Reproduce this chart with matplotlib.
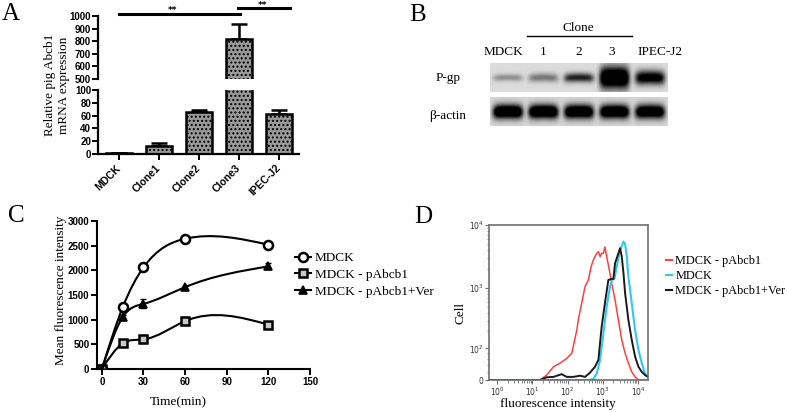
import numpy as np
import matplotlib
matplotlib.use("Agg")
import matplotlib.pyplot as plt
from matplotlib.path import Path
from matplotlib.patches import PathPatch
from matplotlib.lines import Line2D
from matplotlib.transforms import blended_transform_factory

# ---- data ----
# A: relative Abcb1 mRNA
groups = ["MDCK", "Clone1", "Clone2", "Clone3", "IPEC-J2"]
expr = [1, 12, 66, 820, 62]
expr_err = [0.5, 4.5, 3, 115, 6]

# B: western blot band strength (0 = none)
lanes = ["MDCK", "1", "2", "3", "IPEC-J2"]
pgp_band = [0.3, 0.4, 0.75, 1.3, 1.0]
actin_band = [1.3, 1.3, 1.25, 1.25, 1.2]

# C: uptake time course
time_min = [0, 15, 30, 60, 120]
mfi_mdck = [0, 1250, 2060, 2640, 2520]
mfi_mdck_err = [0, 40, 30, 40, 40]
mfi_pab = [0, 520, 600, 970, 900]
mfi_pab_err = [0, 30, 80, 80, 40]
mfi_ver = [0, 1050, 1320, 1660, 2080]
mfi_ver_err = [0, 40, 90, 30, 60]

# D: flow cytometry histograms
red_x = [0.6, 16.6, 25.7, 39.8, 61.6, 95, 132, 183, 202, 252, 314, 390, 466, 540, 600, 673, 750,
         840, 930, 1040, 1150, 1290, 1440, 1790, 2230, 2770, 3460, 4300, 5330, 6640, 8270, 10300, 19000]
red_y = [0, 0, 13, 35, 46, 61, 80, 210, 309, 575, 1060, 1345, 2180, 2790, 3150, 3560, 3780,
         3150, 3560, 3560, 4500, 3150, 2330, 1195, 648, 309, 143, 80, 46, 21, 8, 0, 0]
black_x = [0.6, 16.6, 25.7, 40, 68, 95, 146, 226, 314, 434, 600, 750, 930, 1150, 1440, 1790, 2000,
           2230, 2770, 3100, 3460, 3870, 4300, 5330, 6640, 8270, 10300, 12800, 15700, 19000]
black_y = [0, 0, 7, 8, 15, 8, 8, 11, 8, 19, 35, 56, 240, 575, 1345, 1400, 1400,
           2480, 3560, 4290, 3150, 1715, 826, 309, 143, 67, 35, 21, 13, 8]
cyan_x = [0.6, 400, 550, 673, 840, 1040, 1290, 1610, 1880, 2140, 2480, 3100, 3870, 4300, 4800,
          5330, 6640, 8270, 10300, 12800, 15700, 19000]
cyan_y = [0, 0, 3, 17, 56, 185, 507, 1060, 1400, 1400, 2180, 4000, 5460, 5000, 3150,
          1520, 575, 210, 93, 46, 17, 8]

W, H = 787, 412
serif = "Liberation Serif"
sans = "Liberation Sans"


def fx(x):
    return x / W


def fy(y):
    return 1 - y / H


def box(l, t, r, b):
    return [fx(l), fy(b), (r - l) / W, (b - t) / H]


fig = plt.figure(figsize=(W / 100, H / 100), dpi=100)
plt.rcParams["hatch.linewidth"] = 1.0

# ---------------- panel A ----------------
ax_up = fig.add_axes(box(98, 16, 299, 79))
ax_lo = fig.add_axes(box(98, 90, 299, 154))
xpos = np.arange(len(groups))
for ax in (ax_up, ax_lo):
    ax.bar(xpos, expr, width=0.67, color="#9a9a9a", edgecolor="black", linewidth=1.8,
           hatch="....", zorder=2)
    ax.errorbar(xpos, expr, yerr=[np.zeros(len(expr)), expr_err], fmt="none", ecolor="black",
                elinewidth=1.8, capsize=6, capthick=1.8, zorder=1)
    ax.set_xlim(-0.525, 4.5)
    for s in ("top", "right"):
        ax.spines[s].set_visible(False)
    ax.spines["left"].set_linewidth(1.6)
    ax.spines["bottom"].set_linewidth(1.6)
    ax.tick_params(axis="y", direction="out", length=4, width=1.4, labelsize=7, pad=1)

ax_up.set_ylim(500, 1000)
ax_up.set_yticks(range(500, 1001, 100))
ax_up.spines["bottom"].set_visible(False)
ax_up.tick_params(axis="x", bottom=False, labelbottom=False)
ax_lo.set_ylim(0, 100)
ax_lo.set_yticks(range(0, 101, 20))
ax_lo.set_xticks(xpos)
ax_lo.set_xticklabels(groups, rotation=45, ha="right", va="center", rotation_mode="anchor",
                      fontsize=7.5, fontweight="bold", family=sans)
ax_lo.tick_params(axis="x", direction="out", length=4, width=1.4, pad=5)
for ax in (ax_up, ax_lo):
    for lab in ax.get_yticklabels():
        lab.set_fontweight("bold")
        lab.set_family(sans)

tr = blended_transform_factory(ax_up.transData, fig.transFigure)
fig.add_artist(Line2D([0, 3.03], [fy(14), fy(14)], color="black", lw=2.2, transform=tr))
fig.add_artist(Line2D([2.97, 4.27], [fy(8), fy(8)], color="black", lw=2.2, transform=tr))
fig.text(1.33, fy(10), "**", transform=tr, ha="center", va="center", fontsize=6.5,
         fontweight="bold")
fig.text(3.6, fy(5.5), "**", transform=tr, ha="center", va="center", fontsize=6.5,
         fontweight="bold")
fig.text(fx(57), fy(85), "Relative pig Abcb1\nmRNA expression", rotation=90, ha="center",
         va="center", family=serif, fontsize=9.5, linespacing=1.25)
fig.text(fx(11), fy(14), "A", family=serif, fontsize=18, ha="center", va="center")

# ---------------- panel B ----------------
def blot(ax, levels, heights, bg):
    xs = np.linspace(0, 5, 400)
    ys = np.linspace(0, 1, 80)
    X, Y = np.meshgrid(xs, ys)
    img = np.full(X.shape, bg)
    for i, lv in enumerate(levels):
        c = i + 0.5
        band = np.exp(-np.abs((X - c) / 0.42) ** 6) * \
            np.exp(-((Y - 0.5 - 0.12 * (X - c) ** 2) / heights[i]) ** 2)
        img -= lv * band
    ax.imshow(np.clip(img, 0, 1), extent=(0, 5, 1, 0), aspect="auto", cmap="gray",
              vmin=0, vmax=1, interpolation="bilinear")
    ax.set_xlim(0, 5)
    ax.set_ylim(1, 0)
    ax.axis("off")


ax_b1 = fig.add_axes(box(490, 63, 667, 92))
blot(ax_b1, pgp_band, [0.12, 0.15, 0.16, 0.38, 0.24], 0.86)
ax_b2 = fig.add_axes(box(490, 97, 667, 126))
blot(ax_b2, actin_band, [0.24] * 5, 0.84)

for name, xc in zip(lanes, [503, 543, 579, 612, 660]):
    fig.text(fx(xc), fy(52), name, family=serif, fontsize=9.5, ha="center", va="center")
fig.text(fx(578), fy(28), "Clone", family=serif, fontsize=9.5, ha="center", va="center")
fig.add_artist(Line2D([fx(527), fx(632)], [fy(36), fy(36)], color="black", lw=1.0))
fig.text(fx(448), fy(78), "P-gp", family=serif, fontsize=9.5, ha="center", va="center")
fig.text(fx(448), fy(116), "β-actin", family=serif, fontsize=9.5, ha="center", va="center")
fig.text(fx(418), fy(15), "B", family=serif, fontsize=18, ha="center", va="center")


# ---------------- panel C ----------------
def spline_path(x, y):
    x = np.asarray(x, float)
    y = np.asarray(y, float)
    n = len(x)
    h = np.diff(x)
    A = np.zeros((n, n))
    b = np.zeros(n)
    A[0, 0] = A[-1, -1] = 1
    for i in range(1, n - 1):
        A[i, i - 1] = h[i - 1]
        A[i, i] = 2 * (h[i - 1] + h[i])
        A[i, i + 1] = h[i]
        b[i] = 6 * ((y[i + 1] - y[i]) / h[i] - (y[i] - y[i - 1]) / h[i - 1])
    M = np.linalg.solve(A, b)
    verts = [(x[0], y[0])]
    codes = [Path.MOVETO]
    for i in range(n - 1):
        s = (y[i + 1] - y[i]) / h[i]
        m0 = s - h[i] * (2 * M[i] + M[i + 1]) / 6
        m1 = s + h[i] * (M[i] + 2 * M[i + 1]) / 6
        verts += [(x[i] + h[i] / 3, y[i] + h[i] * m0 / 3),
                  (x[i + 1] - h[i] / 3, y[i + 1] - h[i] * m1 / 3),
                  (x[i + 1], y[i + 1])]
        codes += [Path.CURVE4] * 3
    return Path(verts, codes)


ax_c = fig.add_axes(box(97, 221, 310, 369))
series = [
    (mfi_mdck, mfi_mdck_err, dict(marker="o", ms=6.5, mfc="white", mew=1.8), "MDCK"),
    (mfi_pab, mfi_pab_err, dict(marker="s", ms=5.5, mfc="#c8c8c8", mew=1.8), "MDCK - pAbcb1"),
    (mfi_ver, mfi_ver_err, dict(marker="^", ms=5.5, mfc="black", mew=1.2), "MDCK - pAbcb1+Ver"),
]
handles = []
for vals, err, mk, lab in series:
    ax_c.add_patch(PathPatch(spline_path(time_min, vals), fill=False, lw=1.5, ec="black", zorder=2))
    ax_c.errorbar(time_min, vals, yerr=err, fmt="none", ecolor="black", elinewidth=1.2,
                  capsize=2.5, zorder=3)
    ax_c.plot(time_min, vals, ls="none", mec="black", zorder=4, **mk)
    handles.append(Line2D([], [], color="black", lw=1.5, mec="black", **mk))
ax_c.set_xlim(-3.5, 150)
ax_c.set_ylim(0, 3000)
ax_c.set_xticks(range(0, 151, 30))
ax_c.set_yticks(range(0, 3001, 500))
for s in ("top", "right"):
    ax_c.spines[s].set_visible(False)
ax_c.spines["left"].set_linewidth(1.5)
ax_c.spines["bottom"].set_linewidth(1.5)
ax_c.tick_params(direction="out", length=4, width=1.4, labelsize=7, pad=1.5)
for lab in ax_c.get_xticklabels() + ax_c.get_yticklabels():
    lab.set_fontweight("bold")
    lab.set_family(sans)
fig.text(fx(61), fy(290), "Mean fluorescence intensity", rotation=90, family=serif,
         fontsize=9.5, ha="center", va="center")
fig.text(fx(178), fy(402), "Time(min)", family=serif, fontsize=9.5, ha="center", va="center")
fig.text(fx(16), fy(216), "C", family=serif, fontsize=18, ha="center", va="center")
ax_c.legend(handles, [s[3] for s in series], loc="upper left",
            bbox_to_anchor=(fx(295), fy(252)), bbox_transform=fig.transFigure, frameon=False,
            prop={"family": serif, "size": 9.5}, handlelength=1.2, handletextpad=0.3,
            labelspacing=0.35, borderpad=0, borderaxespad=0)

# ---------------- panel D ----------------
ax_d = fig.add_axes(box(489, 225, 648, 380))
ax_d.plot(red_x, red_y, color="#ff4040", lw=1.1)
ax_d.plot(cyan_x, cyan_y, color="#30c8f0", lw=1.5)
ax_d.plot(black_x, black_y, color="#1a1a1a", lw=1.4)
ax_d.set_xscale("log")
ax_d.set_yscale("asinh", linear_width=70)
ax_d.set_xlim(0.59, 1.92e4)
ax_d.set_ylim(0, 1e4)
ax_d.set_xticks([1, 10, 100, 1000, 10000])
ax_d.set_xticklabels(["10$^0$", "10$^1$", "10$^2$", "10$^3$", "10$^4$"])
ax_d.set_xticks([m * 10 ** e for e in range(0, 5) for m in range(2, 10) if m * 10 ** e < 1.9e4],
                minor=True)
ax_d.set_yticks([0, 100, 1000, 10000])
ax_d.set_yticklabels(["0", "10$^2$", "10$^3$", "10$^4$"])
ax_d.set_yticks([20, 40, 60, 80] + [m * 10 ** e for e in (2, 3) for m in range(2, 10)], minor=True)
ax_d.yaxis.set_minor_formatter(matplotlib.ticker.NullFormatter())
ax_d.xaxis.set_minor_formatter(matplotlib.ticker.NullFormatter())
for s in ax_d.spines.values():
    s.set_color("#707070")
    s.set_linewidth(1.2)
ax_d.tick_params(which="major", direction="out", length=3, width=0.8, colors="#707070",
                 labelsize=5.5, labelcolor="#333333", pad=1)
ax_d.tick_params(which="minor", direction="out", length=1.8, width=0.6, colors="#707070")
fig.text(fx(460), fy(313), "Cell", rotation=90, family=serif, fontsize=9.5, ha="center",
         va="center")
fig.text(fx(558), fy(404), "fluorescence intensity", family=serif, fontsize=9.5,
         ha="center", va="center")
fig.text(fx(423), fy(217), "D", family=serif, fontsize=18, ha="center", va="center")
d_handles = [Line2D([], [], color=c, lw=1.5) for c in ("#ff4040", "#30c8f0", "#1a1a1a")]
ax_d.legend(d_handles, ["MDCK - pAbcb1", "MDCK", "MDCK - pAbcb1+Ver"], loc="upper left",
            bbox_to_anchor=(fx(666), fy(255)), bbox_transform=fig.transFigure, frameon=False,
            prop={"family": serif, "size": 8.8}, handlelength=0.45, handletextpad=0.3,
            labelspacing=0.25, borderpad=0, borderaxespad=0)

fig.savefig("out.png", dpi=100)
